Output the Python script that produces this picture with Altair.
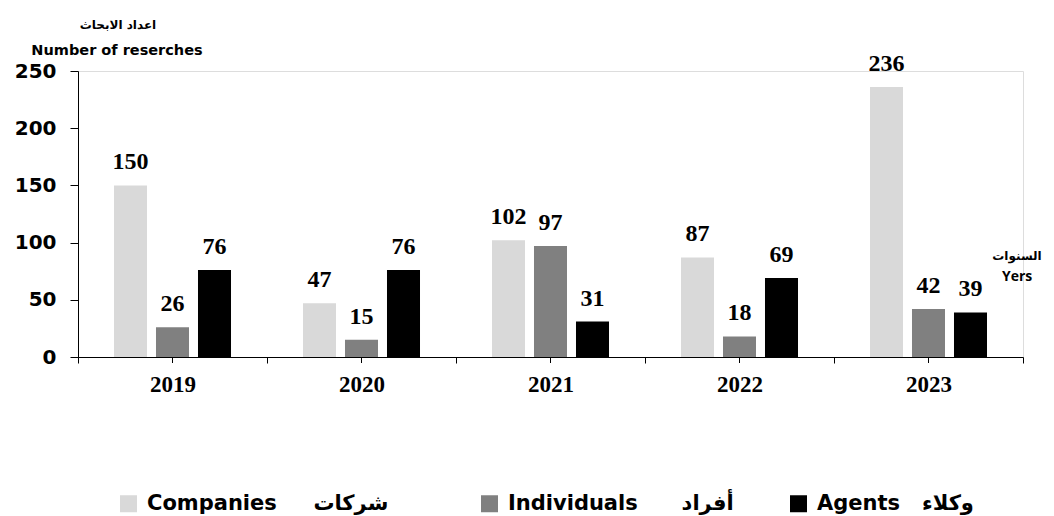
import json
import altair as alt
import pandas as pd

years = ["2019", "2020", "2021", "2022", "2023"]
companies = [150, 47, 102, 87, 236]
individuals = [26, 15, 97, 18, 42]
agents = [76, 76, 31, 69, 39]
series = ["Companies", "Individuals", "Agents"]
series_ar = ["شركات", "أفراد", "وكلاء"]
colors = ["#d9d9d9", "#808080", "#000000"]
y_ticks = [0, 50, 100, 150, 200, 250]
y_title = ["اعداد الابحاث", "Number of reserches"]
x_title = ["السنوات", "Yers"]

rows = []
for i, yr in enumerate(years):
    for s, vals in zip(series, [companies, individuals, agents]):
        rows.append({"year": yr, "series": s, "value": vals[i]})
df = pd.DataFrame(rows)
years_df = pd.DataFrame({"year": years})

NB = "\u00a0"
LRM = "\u200e"
gaps = [5, 6, 3]
trail = [11, 6, 0]
label_map = {
    s: s + NB * g + a + LRM + NB * t + LRM
    for s, a, g, t in zip(series, series_ar, gaps, trail)
}
label_expr = json.dumps(label_map, ensure_ascii=False) + "[datum.label]"

x_axis = alt.Axis(
    title=None, labelAngle=0, tickBand="extent",
    labelFont="Liberation Serif", labelFontWeight="bold", labelFontSize=23,
    labelColor="black", labelPadding=10, tickSize=6, tickColor="black",
    domainColor="black", grid=False,
)
X = alt.X("year:N", sort=years, scale=alt.Scale(paddingInner=0, paddingOuter=0), axis=x_axis)
XO = alt.XOffset("series:N", sort=series,
                 scale=alt.Scale(paddingInner=0.214, paddingOuter=0.857))
Y = alt.Y("value:Q", scale=alt.Scale(domain=[0, 250], nice=False),
          axis=alt.Axis(title=None, values=y_ticks, labelFont="DejaVu Sans",
                        labelFontWeight="bold", labelFontSize=20, labelColor="black",
                        tickSize=8, labelPadding=14, domainColor="black",
                        tickColor="black", grid=False))
C = alt.Color("series:N", sort=series,
              scale=alt.Scale(domain=series, range=colors),
              legend=alt.Legend(title=None, orient="none", legendX=40, legendY=422,
                                direction="horizontal", symbolType="square",
                                symbolSize=289, symbolStrokeWidth=0, symbolOpacity=1,
                                labelFont="DejaVu Sans", labelFontWeight="bold",
                                labelFontSize=21, labelColor="black", labelOffset=8,
                                columnPadding=10, padding=0, labelLimit=0,
                                labelExpr=label_expr))

bars = alt.Chart(df).mark_bar().encode(x=X, xOffset=XO, y=Y, color=C)
labels = alt.Chart(df).mark_text(
    font="Liberation Serif", fontWeight="bold", fontSize=24, dy=-16,
    baseline="alphabetic", color="black"
).encode(x=X, xOffset=XO, y=Y, text="value:Q")
center_ticks = alt.Chart(years_df).mark_rule(color="black", strokeWidth=1).encode(
    x=X, y=alt.value(286), y2=alt.value(292)
)

t1 = alt.Chart(pd.DataFrame({"t": [y_title[0]]})).mark_text(
    font="DejaVu Sans", fontWeight="bold", fontSize=12, color="black",
    align="center", baseline="middle"
).encode(text="t:N", x=alt.value(40), y=alt.value(-46))
t2 = alt.Chart(pd.DataFrame({"t": [y_title[1]]})).mark_text(
    font="DejaVu Sans", fontWeight="bold", fontSize=14.5, color="black",
    align="center", baseline="middle"
).encode(text="t:N", x=alt.value(39), y=alt.value(-20))
t3 = alt.Chart(pd.DataFrame({"t": [x_title[0]]})).mark_text(
    font="DejaVu Sans", fontWeight="bold", fontSize=12, color="black",
    align="center", baseline="middle"
).encode(text="t:N", x=alt.value(939), y=alt.value(185))
t4 = alt.Chart(pd.DataFrame({"t": [x_title[1]]})).mark_text(
    font="Open Sans", fontWeight="bold", fontSize=14, color="black",
    align="left", baseline="middle"
).encode(text="t:N", x=alt.value(924), y=alt.value(206))

chart = alt.layer(bars, labels, center_ticks, t1, t2, t3, t4).properties(
    width=945, height=286,
    autosize=alt.AutoSizeParams(type="none"),
    padding={"left": 70, "top": 63, "right": 20, "bottom": 159},
).configure_view(stroke=None).configure(background="white")

chart.save("out.html", embed_options={"renderer": "svg", "actions": False})
